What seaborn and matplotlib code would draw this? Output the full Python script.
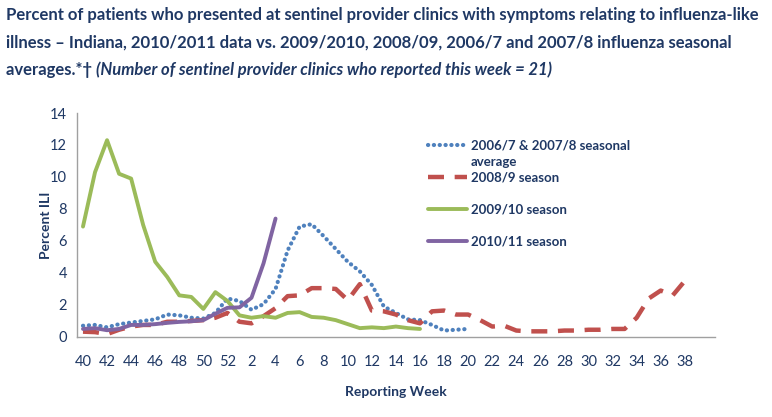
import numpy as np
import pandas as pd
import seaborn as sns
import matplotlib.pyplot as plt

nan = np.nan

# reporting weeks: 40..52 then 1..40
weeks = list(range(40, 53)) + list(range(1, 41))
tick_labels = [str(w) for w in weeks[0:51:2]]

avg_0608 = [0.7, 0.75, 0.6, 0.8, 0.9, 1.0, 1.1, 1.4, 1.35, 1.2, 1.15, 1.5,
            2.4, 2.25, 1.7, 2.05, 3.0, 5.4, 6.9, 7.05, 6.3, 5.5, 4.7, 4.1,
            3.25, 1.9, 1.5, 1.1, 1.05, 0.75, 0.4, 0.45, 0.5]
season_0809 = [0.33, 0.3, 0.18, 0.45, 0.65, 0.75, 0.75, 0.95, 0.95, 1.0,
               1.05, 1.2, 1.5, 0.95, 0.85, 1.3, 1.8, 2.55, 2.6, 3.05, 3.05,
               3.0, 2.3, 3.3, 1.65, 1.6, 1.4, 1.05, 0.85, 1.6, 1.65, 1.4,
               1.4, 1.05, 0.65, 0.7, 0.4, 0.35, 0.35, 0.35, 0.4, 0.4, 0.45,
               0.45, 0.5, 0.5, 1.2, 2.4, 2.9, 2.6, 3.5]
season_0910 = [6.9, 10.3, 12.3, 10.2, 9.9, 7.0, 4.7, 3.75, 2.6, 2.5, 1.75,
               2.8, 2.25, 1.35, 1.2, 1.3, 1.2, 1.5, 1.55, 1.25, 1.2, 1.05,
               0.8, 0.55, 0.6, 0.55, 0.65, 0.55, 0.5]
season_1011 = [0.5, 0.55, 0.42, 0.5, 0.75, 0.75, 0.8, 0.88, 0.94, 0.98, 1.05,
               1.45, 1.82, 1.85, 2.45, 4.6, 7.4]

labels = ["2006/7 & 2007/8 seasonal", "2008/9 season",
          "2009/10 season", "2010/11 season"]


def pad(vals):
    return list(vals) + [nan] * (len(weeks) - len(vals))


df = pd.DataFrame({"pos": np.arange(len(weeks)), "week": weeks,
                   "avg": pad(avg_0608), "s0809": pad(season_0809),
                   "s0910": pad(season_0910), "s1011": pad(season_1011)})

navy = "#1f3864"
sns.set_style("white")
plt.rcParams["font.family"] = ["Lato", "DejaVu Sans"]

fig = plt.figure(figsize=(7.72, 4.17), dpi=100)
ax = fig.add_axes([0.0997, 0.192, 0.8263, 0.537])

sns.lineplot(x="pos", y="avg", data=df, ax=ax, color="#4f81bd", lw=3.0,
             linestyle=(0, (0.05, 1.35)), dash_capstyle="round",
             label=labels[0])
sns.lineplot(x="pos", y="s0809", data=df, ax=ax, color="#c0504d", lw=3.2,
             linestyle=(0, (3.6, 2.4)), label=labels[1])
sns.lineplot(x="pos", y="s0910", data=df, ax=ax, color="#9bbb59", lw=2.8,
             label=labels[2])
sns.lineplot(x="pos", y="s1011", data=df, ax=ax, color="#8064a2", lw=2.8,
             label=labels[3])

ax.set_xlim(-0.5, len(weeks) - 0.5)
ax.set_ylim(0, 14)
ax.set_yticks(range(0, 15, 2))
ax.set_xticks(range(0, 51, 2))
ax.set_xticklabels(tick_labels)
ax.tick_params(axis="both", length=0, labelsize=10.5, colors=navy)
ax.tick_params(axis="x", pad=13)
ax.tick_params(axis="y", pad=7)
for s in ["top", "right"]:
    ax.spines[s].set_visible(False)
for s in ["left", "bottom"]:
    ax.spines[s].set_color("#a0a0a0")
    ax.spines[s].set_linewidth(1.0)

ax.set_xlabel("Reporting Week", fontsize=10, fontweight="bold", color=navy,
              labelpad=12)
ax.set_ylabel("Percent ILI", fontsize=10, fontweight="bold", color=navy,
              labelpad=-1)

leg = ax.legend(loc="upper left", bbox_to_anchor=(0.55, 0.88), frameon=False,
                borderpad=0, borderaxespad=0, handlelength=3.0,
                handletextpad=0.25, labelspacing=1.5,
                prop={"weight": "bold", "size": 9.5})
for t in leg.get_texts():
    t.set_color(navy)

title1 = ("Percent of patients who presented at sentinel provider clinics with "
          "symptoms relating to influenza-like")
title2 = ("illness \u2013 Indiana, 2010/2011 data vs. 2009/2010, 2008/09, "
          "2006/7 and 2007/8 influenza seasonal")
fig.text(0.008, 0.963, title1, fontsize=12, fontweight="bold", color=navy,
         va="center")
fig.text(0.008, 0.898, title2, fontsize=12, fontweight="bold", color=navy,
         va="center")
t3 = fig.text(0.008, 0.833, "averages.*\u2020 ", fontsize=12,
              fontweight="bold", color=navy, va="center")

# second line of the first legend entry, placed under its text
fig.canvas.draw()
bb = leg.get_texts()[0].get_window_extent().transformed(fig.transFigure.inverted())
fig.text(bb.x0, bb.y0 - 0.009, "average", va="top", ha="left", fontsize=9.5,
         fontweight="bold", color=navy)
bb3 = t3.get_window_extent().transformed(fig.transFigure.inverted())
fig.text(bb3.x1, 0.833,
         "(Number of sentinel provider clinics who reported this week = 21)",
         va="center", ha="left", fontsize=12, fontweight="bold",
         fontstyle="italic", color=navy)

fig.savefig("out.png", dpi=100)
